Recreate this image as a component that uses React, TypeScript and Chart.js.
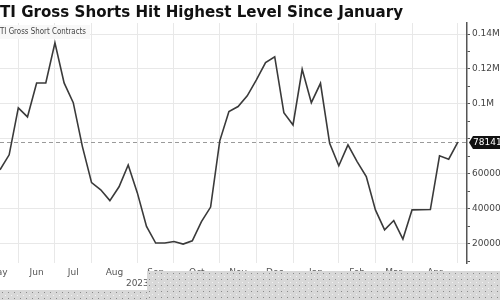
import React, { useEffect, useRef } from "react";
import { Chart, registerables } from "chart.js";

Chart.register(...registerables);

const TITLE = "WTI Gross Shorts Hit Highest Level Since January";
const SERIES_NAME = "WTI Gross Short Contracts";

// weekly gross short contracts (index = week)
const shortContracts = [
  62300, 70900, 97700, 92600, 112000, 112000, 135000, 112000, 100700, 75600,
  55000, 50900, 44700, 52600, 65100, 49100, 29900, 20400, 20400, 21300,
  19800, 21700, 32700, 41000, 78900, 95600, 98500, 104600, 113700, 123600,
  127000, 95000, 88000, 119800, 100700, 111800, 77500, 64600, 76600, 67000,
  58500, 39400, 28000, 33300, 22700, 39400, 39500, 39600, 70300, 68400, 78141,
];

// week index at which each month starts (gridlines)
const monthStarts = [2, 6, 10, 15, 19, 24, 28, 32, 37, 41, 45, 50];
const monthNames = ["May", "Jun", "Jul", "Aug", "Sep", "Oct", "Nov", "Dec", "Jan", "Feb", "Mar", "Apr"];
const monthLabelAt = [-0.2, 4, 8, 12.5, 17, 21.5, 26, 30, 34.5, 39, 43, 47.5];
const yearNames = ["2023", "2024"];
const yearLabelAt = [15, 32];

const yTickValues = [10000, 20000, 30000, 40000, 50000, 60000, 70000, 80000, 90000, 100000, 110000, 120000, 130000, 140000];

const FONT = '"DejaVu Sans", Verdana, sans-serif';

function fmt(v: number): string {
  if (v >= 100000) return v / 1e6 + "M";
  return String(v);
}

const decorPlugin = {
  id: "decor",
  beforeDatasetsDraw(chart: any) {
    const { ctx, chartArea, scales } = chart;
    const last = shortContracts[shortContracts.length - 1];
    const y = Math.round(scales.y.getPixelForValue(last)) + 0.5;
    ctx.save();
    ctx.strokeStyle = "#9a9a9a";
    ctx.lineWidth = 1;
    ctx.setLineDash([4, 3]);
    ctx.beginPath();
    ctx.moveTo(chartArea.left, y);
    ctx.lineTo(chartArea.right, y);
    ctx.stroke();
    ctx.restore();
  },
  afterDraw(chart: any) {
    const { ctx, chartArea, scales } = chart;
    ctx.save();
    // Title
    ctx.font = `bold 15px ${FONT}`;
    const full = ctx.measureText(TITLE).width;
    const cut = ctx.measureText("W").width;
    const visible = full - cut;
    const sx = 403 / visible;
    ctx.save();
    ctx.scale(sx, 1);
    ctx.fillStyle = "#111";
    ctx.textBaseline = "alphabetic";
    ctx.textAlign = "left";
    ctx.fillText(TITLE, -cut, 17);
    ctx.restore();

    // legend box
    ctx.font = `9px ${FONT}`;
    const lf = ctx.measureText(SERIES_NAME).width;
    const lw = ctx.measureText("W").width;
    ctx.fillStyle = "rgba(248,248,248,0.95)";
    ctx.fillRect(0, 25, 90, 14);
    ctx.fillStyle = "#444";
    ctx.textBaseline = "middle";
    const lsx = 86 / (lf - lw);
    ctx.save();
    ctx.scale(lsx, 1);
    ctx.fillText(SERIES_NAME, -lw, 32);
    ctx.restore();

    // month labels
    ctx.font = `9px ${FONT}`;
    ctx.fillStyle = "#555";
    ctx.textAlign = "center";
    ctx.textBaseline = "middle";
    monthNames.forEach((m, i) => {
      ctx.fillText(m, scales.x.getPixelForValue(monthLabelAt[i]), 273);
    });
    yearNames.forEach((m, i) => {
      ctx.fillText(m, scales.x.getPixelForValue(yearLabelAt[i]), 284);
    });

    // last value label
    const last = shortContracts[shortContracts.length - 1];
    const y = Math.round(scales.y.getPixelForValue(last)) + 0.5;
    const x0 = chartArea.right + 2;
    ctx.fillStyle = "#111";
    ctx.beginPath();
    ctx.moveTo(x0, y);
    ctx.lineTo(x0 + 4, y - 6.5);
    ctx.lineTo(500, y - 6.5);
    ctx.lineTo(500, y + 6.5);
    ctx.lineTo(x0 + 4, y + 6.5);
    ctx.closePath();
    ctx.fill();
    ctx.fillStyle = "#fff";
    ctx.font = `9px ${FONT}`;
    ctx.textAlign = "left";
    ctx.fillText(String(last), x0 + 4, y + 0.5);

    // dotted overlay at the bottom
    const rects = [
      [147, 271, 353, 29],
      [0, 290, 147, 10],
    ];
    rects.forEach(([rx, ry, rw, rh]) => {
      ctx.fillStyle = "#d8d8d8";
      ctx.fillRect(rx, ry, rw, rh);
      for (let yy = ry + 2; yy < ry + rh; yy += 6) {
        for (let xx = rx + 2; xx < rx + rw; xx += 6) {
          ctx.fillStyle = "#8a8a8a";
          ctx.fillRect(xx, yy, 1, 1);
          ctx.fillStyle = "#f4f4f4";
          ctx.fillRect(xx + 3, yy + 3, 1, 1);
        }
      }
    });
    ctx.restore();
  },
};

export default function App() {
  const ref = useRef<HTMLCanvasElement | null>(null);
  useEffect(() => {
    if (!ref.current) return;
    const chart = new Chart(ref.current, {
      type: "line",
      data: {
        datasets: [
          {
            label: SERIES_NAME,
            data: shortContracts.map((v, i) => ({ x: i, y: v })),
            borderColor: "#3a3a3a",
            borderWidth: 1.6,
            pointRadius: 0,
            tension: 0,
            fill: false,
          },
        ],
      },
      options: {
        animation: false,
        responsive: false,
        maintainAspectRatio: false,
        layout: { padding: { top: 23, left: 0, right: 0, bottom: 0 } },
        plugins: { legend: { display: false }, tooltip: { enabled: false }, title: { display: false } },
        scales: {
          x: {
            type: "linear",
            min: 0,
            max: 51,
            afterBuildTicks: (scale: any) => {
              scale.ticks = monthStarts.map((v) => ({ value: v }));
            },
            afterFit: (scale: any) => {
              scale.height = 37;
            },
            ticks: { display: false },
            grid: { color: "#e8e8e8", drawTicks: false, lineWidth: 1 },
            border: { display: false },
          },
          y: {
            type: "linear",
            position: "right",
            min: 9000,
            max: 146300,
            afterBuildTicks: (scale: any) => {
              scale.ticks = yTickValues.map((v) => ({ value: v }));
            },
            afterFit: (scale: any) => {
              scale.width = 33;
            },
            ticks: {
              padding: 2,
              color: "#444",
              font: { family: FONT, size: 9 },
              callback: (v: any) => {
                const n = Number(v);
                if (n % 20000 !== 0 || n === 80000) return "";
                return fmt(n);
              },
            },
            grid: {
              color: (c: any) => (c.tick && c.tick.value % 20000 === 0 ? "#e8e8e8" : "rgba(0,0,0,0)"),
              tickColor: "#555",
              tickLength: 3,
              lineWidth: 1,
            },
            border: { display: true, color: "#555", width: 1.5 },
          },
        },
      },
      plugins: [decorPlugin],
    });
    return () => chart.destroy();
  }, []);
  return (
    <div style={{ position: "fixed", left: 0, top: 0, width: 500, height: 300, background: "#fff" }}>
      <canvas ref={ref} width={500} height={300} style={{ display: "block", width: 500, height: 300 }} />
    </div>
  );
}
